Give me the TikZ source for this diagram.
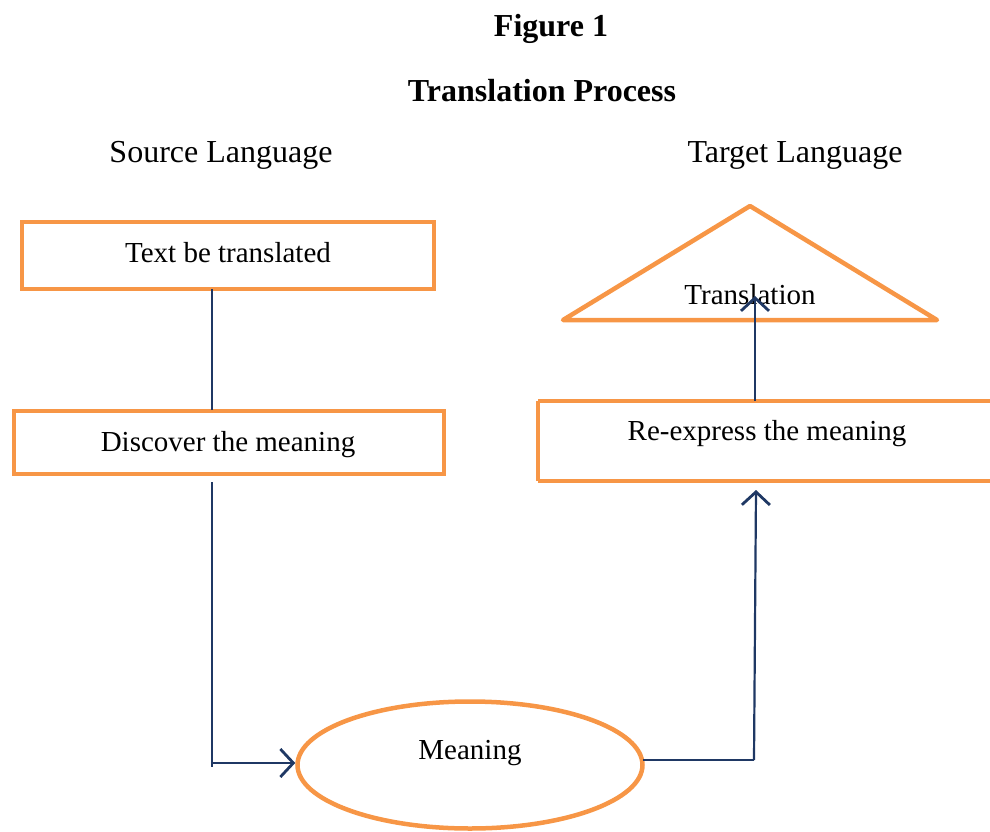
\documentclass[tikz,border=0pt]{standalone}
\usepackage{fontspec}
\setmainfont{Liberation Serif}
\usetikzlibrary{arrows.meta,shapes.geometric}
\definecolor{boxorange}{HTML}{F79646}
\definecolor{navyline}{HTML}{1F3864}
\begin{document}
\begin{tikzpicture}[x=1pt,y=-1pt,
  head/.style={font=\fontsize{32}{38}\selectfont\bfseries},
  lang/.style={font=\fontsize{32}{38}\selectfont},
  boxtext/.style={font=\fontsize{29}{35}\selectfont},
  obox/.style={draw=boxorange,line width=4.5pt},
  conn/.style={draw=navyline,line width=2.2pt},
  arr/.style={conn,-{Straight Barb[length=13pt,width=28pt,line width=2.8pt]}}]
\useasboundingbox (0,0) rectangle (990,832);
\node[head] (fig) at (551,29) {Figure 1};
\node[head] (title) at (542,91) {Translation Process};
\node[lang] (src) at (221,155) {Source Language};
\node[lang] (tgt) at (795,155) {Target Language};
% boxes
\draw[obox] (22,222) rectangle (434,289);
\node[boxtext] (text) at (228,253) {Text be translated};
\coordinate (b1bot) at (212,289);
\draw[obox] (14,411) rectangle (444,474);
\node[boxtext] (disc) at (228,445) {Discover the meaning};
\coordinate (b2top) at (212,410);
\coordinate (b2bot) at (212,482);
\coordinate (corner1) at (212,763);
\coordinate (corner1b) at (212,767);
\node[obox,ellipse,minimum width=345pt,minimum height=127pt,inner sep=0pt] (mean) at (470,765) {};
\node[boxtext] (meantext) at (470,753) {Meaning};
\draw[obox] (538,401) -- (992,401) (992,481) -- (538,481) -- cycle;
\draw[obox] (538,401) -- (538,481);
\node[boxtext] (reexp) at (767,434) {Re-express the meaning};
\draw[obox,line join=round,line cap=round] (750,206) -- (937,320) -- (563,320) -- cycle;
\node[boxtext] (trans) at (750,295) {Translation};
% connectors
\draw[conn] (b1bot) -- (b2top);
\draw[conn] (b2bot) -- (corner1b);
\draw[arr] (corner1) -- (mean.west |- corner1);
\coordinate (r1) at (643,760);
\coordinate (r2) at (754,760);
\coordinate (r3) at (756,490);
\draw[conn] (r1) -- (r2);
\draw[arr] (r2) -- (r3);
\coordinate (t1) at (755,401);
\coordinate (t2) at (755,296);
\draw[arr] (t1) -- (t2);
\end{tikzpicture}
\end{document}
